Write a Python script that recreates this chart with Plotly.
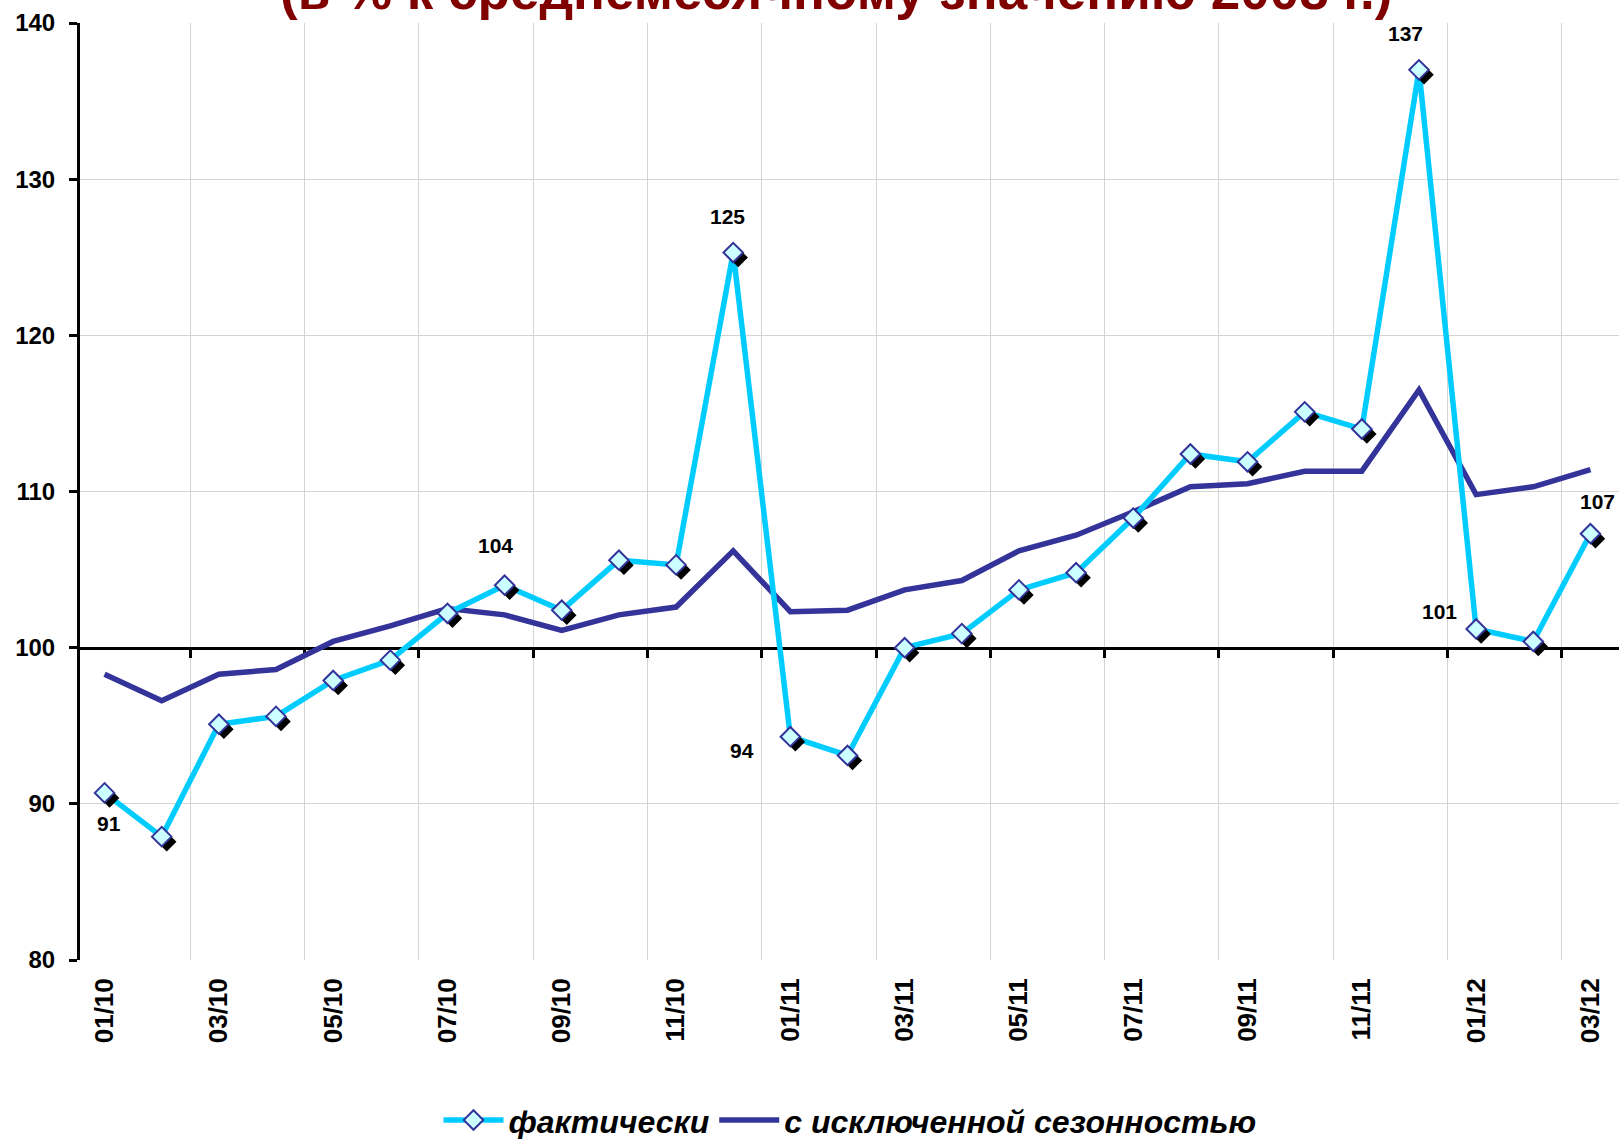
import plotly.graph_objects as go

months = ["01/10", "02/10", "03/10", "04/10", "05/10", "06/10", "07/10", "08/10", "09/10",
          "10/10", "11/10", "12/10", "01/11", "02/11", "03/11", "04/11", "05/11", "06/11",
          "07/11", "08/11", "09/11", "10/11", "11/11", "12/11", "01/12", "02/12", "03/12"]
actual = [90.7, 87.9, 95.1, 95.6, 97.9, 99.2, 102.2, 104.0, 102.4, 105.6, 105.3, 125.3,
          94.3, 93.1, 100.0, 100.9, 103.7, 104.8, 108.3, 112.4, 111.9, 115.1, 114.0, 137.0,
          101.2, 100.4, 107.3]
seasonal = [98.3, 96.6, 98.3, 98.6, 100.4, 101.4, 102.5, 102.1, 101.1, 102.1, 102.6, 106.2,
            102.3, 102.4, 103.7, 104.3, 106.2, 107.2, 108.7, 110.3, 110.5, 111.3, 111.3, 116.5,
            109.8, 110.3, 111.4]
name_actual = "фактически"
name_seasonal = "с исключенной сезонностью"
title_text = "(в % к среднемесячному значению 2008 г.)"
# indices of labelled points and pixel offsets of their labels
label_idx = [0, 7, 11, 12, 23, 24, 26]
label_shift = [(4, -31), (-9, 40), (-6, 36), (-48, -14), (-13, 36), (-37, 17), (7, 32)]
y_min, y_max, y_step, base_level = 80, 140, 10, 100

idx = list(range(len(months)))

W, H = 1619, 1139
ML, MR, MT, MB = 80, 0, 23, 179
pw, ph = W - ML - MR, H - MT - MB
xr = [-0.43, len(months) - 0.5]
sx = pw / (xr[1] - xr[0])
sy = ph / (y_max - y_min)
SH = 5  # shadow offset px

C_ACT = "#00CCFF"
C_SEA = "#333399"
C_FILL = "#CCFFFF"
GRID = "#D4D4D4"
FONT = "Liberation Sans, Arial, sans-serif"

fig = go.Figure()

# lines
fig.add_trace(go.Scatter(x=idx, y=seasonal, mode="lines", line=dict(color=C_SEA, width=5.5),
                         showlegend=False, hoverinfo="skip", xaxis="x", yaxis="y"))
fig.add_trace(go.Scatter(x=idx, y=actual, mode="lines", line=dict(color=C_ACT, width=5.5),
                         showlegend=False, hoverinfo="skip", xaxis="x", yaxis="y"))
# helper traces for overlay axes
fig.add_trace(go.Scatter(x=[None], y=[None], xaxis="x3", yaxis="y", showlegend=False, hoverinfo="skip"))
fig.add_trace(go.Scatter(x=[None], y=[None], xaxis="x4", yaxis="y", showlegend=False, hoverinfo="skip"))
# shadows
fig.add_trace(go.Scatter(x=idx, y=actual, mode="markers",
                         marker=dict(symbol="diamond", size=15, color="black", line=dict(width=0)),
                         showlegend=False, hoverinfo="skip", xaxis="x5", yaxis="y5", cliponaxis=False))
# markers
fig.add_trace(go.Scatter(x=idx, y=actual, mode="markers",
                         marker=dict(symbol="diamond", size=15, color=C_FILL, line=dict(width=2, color=C_SEA)),
                         showlegend=False, hoverinfo="skip", xaxis="x6", yaxis="y6", cliponaxis=False))
# legend entries
fig.add_trace(go.Scatter(x=[None], y=[None], mode="lines+markers", name=name_actual,
                         line=dict(color=C_ACT, width=5.5),
                         marker=dict(symbol="diamond", size=15, color=C_FILL, line=dict(width=2, color=C_SEA))))
fig.add_trace(go.Scatter(x=[None], y=[None], mode="lines", name=name_seasonal,
                         line=dict(color=C_SEA, width=5.5)))

for i, (dx, dy) in zip(label_idx, label_shift):
    fig.add_annotation(x=i, y=actual[i], xref="x", yref="y", text=f"<b>{round(actual[i])}</b>",
                       showarrow=False, xshift=dx, yshift=dy,
                       font=dict(family=FONT, size=21, color="black"))

# title (top of it cut by the page edge, as in the original)
fig.add_annotation(x=(836 - ML) / pw, y=1 + (MT - 22) / ph, xref="paper", yref="paper",
                   xanchor="center", yanchor="bottom", showarrow=False,
                   text=f"<b>{title_text}</b>",
                   font=dict(family=FONT, size=53, color="#800000"))

grid_vals = [i + 0.5 for i in idx[1::2]][: len(idx) // 2]

fig.update_layout(
    width=W, height=H,
    margin=dict(l=ML, r=MR, t=MT, b=MB, autoexpand=False),
    paper_bgcolor="white", plot_bgcolor="rgba(0,0,0,0)",
    xaxis=dict(range=xr, tickvals=idx[::2], ticktext=months[::2], tickangle=-90,
               showgrid=False, showline=False, zeroline=False, ticks="", ticklabelstandoff=12,
               automargin=False,
               tickfont=dict(family=FONT, size=26, color="black", weight="bold")),
    xaxis3=dict(overlaying="x", range=xr, tickvals=grid_vals, showgrid=True, gridcolor=GRID,
                gridwidth=1, showticklabels=False, ticks="", zeroline=False, showline=False,
                automargin=False),
    xaxis4=dict(overlaying="x", anchor="free", position=(base_level - y_min) / (y_max - y_min),
                range=xr, tickvals=grid_vals, showgrid=False, showticklabels=False,
                showline=True, linecolor="black", linewidth=3, ticks="outside", ticklen=8,
                tickwidth=3, tickcolor="black", zeroline=False, layer="below traces",
                automargin=False),
    yaxis=dict(range=[y_min, y_max], dtick=y_step, tick0=y_min, showgrid=True, gridcolor=GRID,
               gridwidth=1, showline=True, linecolor="black", linewidth=3, ticks="outside",
               ticklen=8, tickwidth=3, tickcolor="black", zeroline=False, ticklabelstandoff=9,
               automargin=False,
               tickfont=dict(family=FONT, size=24, color="black", weight="bold")),
    xaxis5=dict(domain=[SH / pw, 1], range=[xr[0], xr[1] - SH / sx], visible=False, anchor="y5"),
    yaxis5=dict(domain=[0, 1 - SH / ph], range=[y_min + SH / sy, y_max], visible=False, anchor="x5"),
    xaxis6=dict(domain=[0, 1], range=xr, visible=False, anchor="y6"),
    yaxis6=dict(domain=[0, 1], range=[y_min, y_max], visible=False, anchor="x6"),
    legend=dict(orientation="h", x=(850 - ML) / pw, xanchor="center", y=-0.171, yanchor="middle",
                font=dict(family=FONT, size=32, color="black", weight="bold", style="italic"),
                bgcolor="rgba(0,0,0,0)", itemwidth=60),
    showlegend=True,
)

fig.write_html("out.html", config={"displayModeBar": False},
               post_script="document.body.style.margin='0';document.body.style.overflow='hidden';")
